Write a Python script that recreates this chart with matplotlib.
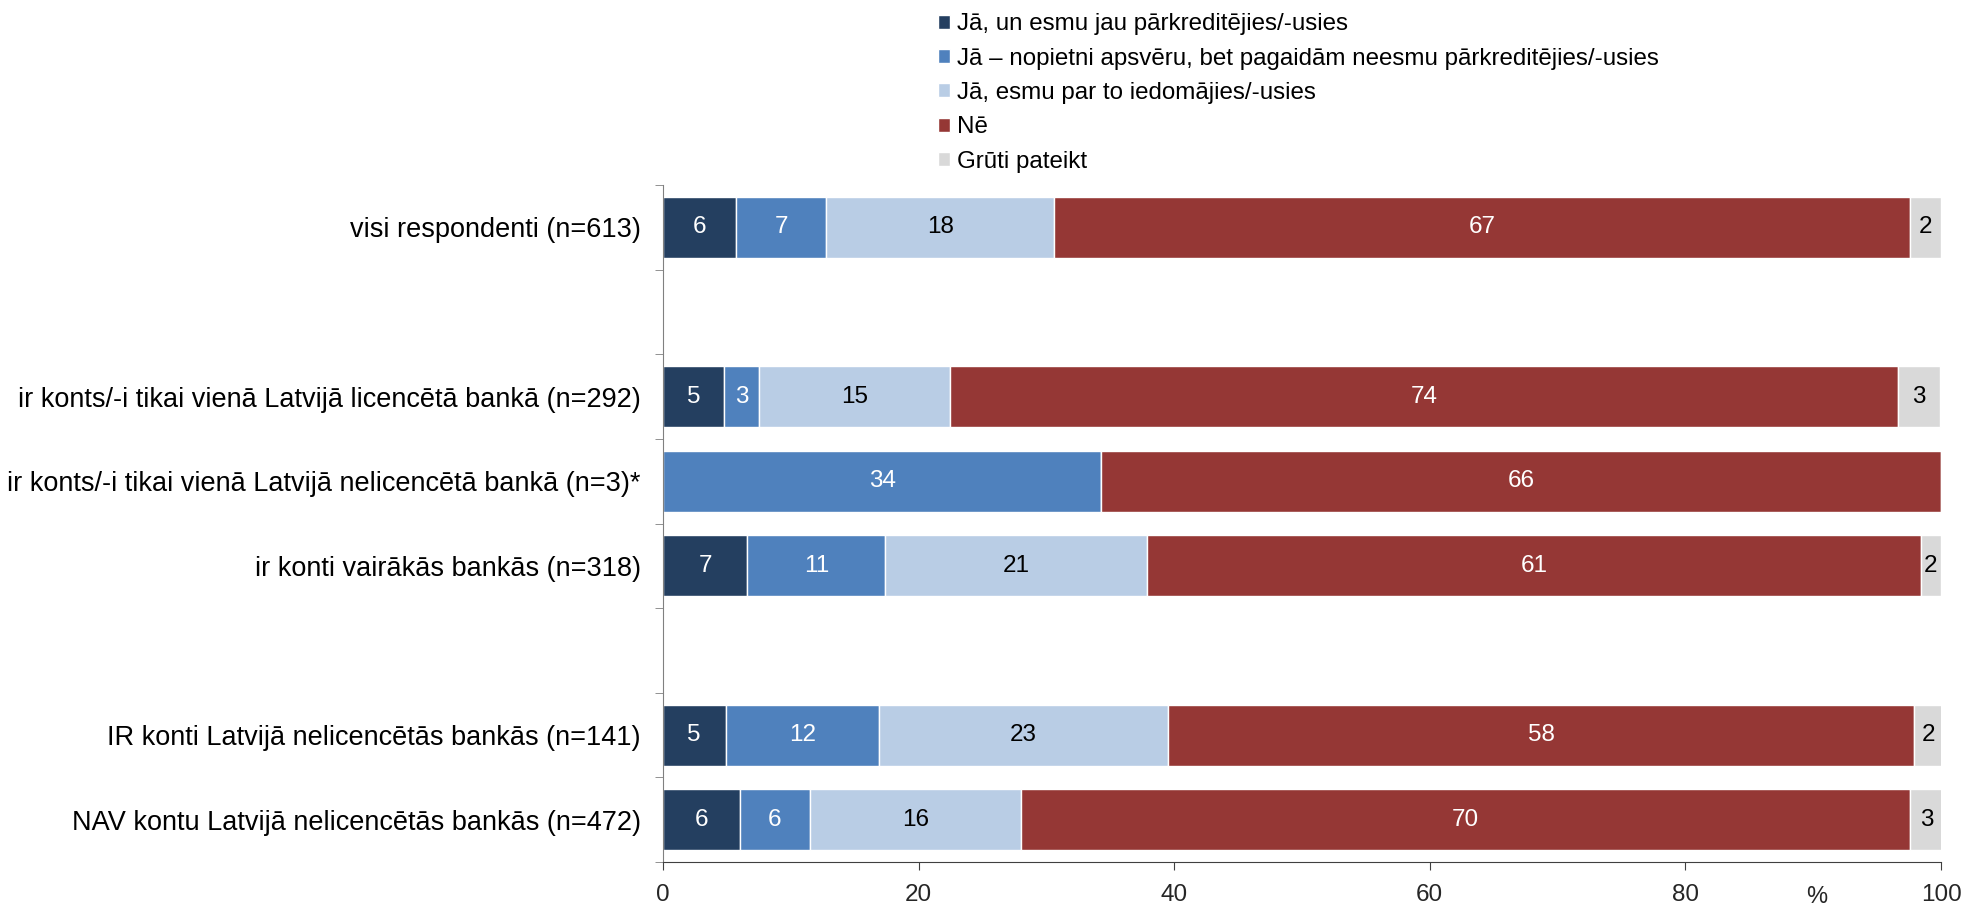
import numpy as np
import matplotlib.pyplot as plt

plt.rcParams['font.family'] = ['Liberation Sans', 'DejaVu Sans']

categories = [
    "visi respondenti (n=613)",
    "ir konts/-i tikai vienā Latvijā licencētā bankā (n=292)",
    "ir konts/-i tikai vienā Latvijā nelicencētā bankā (n=3)*",
    "ir konti vairākās bankās (n=318)",
    "IR konti Latvijā nelicencētās bankās (n=141)",
    "NAV kontu Latvijā nelicencētās bankās (n=472)",
]
series = [
    "Jā, un esmu jau pārkreditējies/-usies",
    "Jā – nopietni apsvēru, bet pagaidām neesmu pārkreditējies/-usies",
    "Jā, esmu par to iedomājies/-usies",
    "Nē",
    "Grūti pateikt",
]
# segment widths
jau =      [5.7, 4.8, 0.0, 6.6, 4.9, 6.0]
nopietni = [7.1, 2.7, 34.3, 10.8, 12.0, 5.5]
iedomajies = [17.8, 15.0, 0.0, 20.5, 22.6, 16.5]
ne =       [67.0, 74.1, 65.7, 60.5, 58.4, 69.6]
gruti =    [2.4, 3.3, 0.0, 1.6, 2.2, 2.5]
# printed labels
lbl_jau = ["6", "5", "", "7", "5", "6"]
lbl_nopietni = ["7", "3", "34", "11", "12", "6"]
lbl_iedomajies = ["18", "15", "", "21", "23", "16"]
lbl_ne = ["67", "74", "66", "61", "58", "70"]
lbl_gruti = ["2", "3", "", "2", "2", "3"]

values = [jau, nopietni, iedomajies, ne, gruti]
labels = [lbl_jau, lbl_nopietni, lbl_iedomajies, lbl_ne, lbl_gruti]
colors = ["#243F60", "#4F81BD", "#B9CDE5", "#953735", "#D9D9D9"]
txt_colors = ["white", "white", "black", "white", "black"]

ypos = np.array([0, 2, 3, 4, 6, 7])

fig = plt.figure(figsize=(19.67, 9.11), dpi=100)
ax = fig.add_axes([0.337, 0.0538, 0.6498, 0.7431])

left = np.zeros(len(categories))
for i in range(5):
    v = np.array(values[i])
    ax.barh(ypos, v, left=left, height=0.72, color=colors[i],
            edgecolor="white", linewidth=1, label=series[i])
    for j in range(len(categories)):
        if labels[i][j]:
            ax.text(left[j] + v[j] / 2, ypos[j], labels[i][j], ha="center",
                    va="center", fontsize=17.5, color=txt_colors[i])
    left = left + v

ax.set_xlim(0, 100)
ax.set_ylim(7.5, -0.5)
ax.set_xticks(np.arange(0, 101, 20))
ax.tick_params(axis="x", labelsize=17.5, length=6, color="#404040", pad=10,
               labelcolor="#262626")
ax.set_yticks(ypos)
ax.set_yticklabels(categories, fontsize=19.5)
ax.tick_params(axis="y", which="major", length=0, pad=16)
ax.set_yticks(np.arange(-0.5, 8, 1), minor=True)
ax.tick_params(axis="y", which="minor", length=6, color="#808080")
for s in ["top", "right"]:
    ax.spines[s].set_visible(False)
ax.spines["left"].set_color("#808080")
ax.spines["bottom"].set_color("#404040")
ax.text(90.3, -0.052, "%", transform=ax.get_xaxis_transform(),
        ha="center", va="center", fontsize=17, color="#262626")

fig.legend(loc="upper left", bbox_to_anchor=(0.472, 0.996), frameon=False,
           fontsize=17.4, handlelength=0.5, handleheight=0.5,
           handletextpad=0.3, labelspacing=0.51, borderaxespad=0)

fig.savefig("out.png", dpi=100)
